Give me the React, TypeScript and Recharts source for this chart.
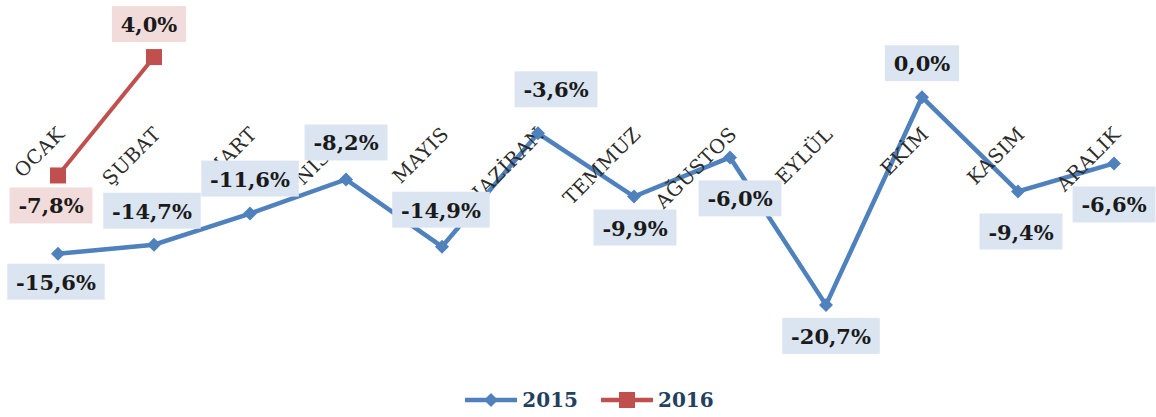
import { LineChart, Line, XAxis, YAxis, Legend, LabelList, ReferenceDot } from "recharts";

const MONTHS = ["OCAK", "ŞUBAT", "MART", "NİSAN", "MAYIS", "HAZİRAN", "TEMMUZ", "AĞUSTOS", "EYLÜL", "EKİM", "KASIM", "ARALIK"];
const Y2015 = [-15.6, -14.7, -11.6, -8.2, -14.9, -3.6, -9.9, -6.0, -20.7, 0.0, -9.4, -6.6];
const Y2016 = [-7.8, 4.0];

// horizontal axis crosses the value axis at 0 (Excel default)
const AXIS_CROSS = 0;
const Y_DOMAIN = [-24, 6];

// where each label box sits, relative to its point (dx, dy of the box center)
const OFFSET_2015 = [[-2, 28], [-2, -34], [0, -35], [0, -37], [-1, -37], [18, -44], [1, 31], [10, 41], [5, 31], [0, -34], [3, 40], [0, 41]];
const OFFSET_2016 = [[-7, 30], [-5, -33]];

const BLUE = "#4f81bd";
const RED = "#c0504d";
const FONT = "'DejaVu Serif', serif";

const data = MONTHS.map((m, i) => ({
  month: m,
  y2015: Y2015[i],
  y2016: i < Y2016.length ? Y2016[i] : null,
}));

const fmt = (v: number) => v.toFixed(1).replace(".", ",") + "%";

// rough glyph widths for DejaVu Serif Bold (em)
const W: Record<string, number> = { "-": 0.411, ",": 0.38, "%": 1.002 };
const textWidth = (s: string, size: number) =>
  s.split("").reduce((acc, c) => acc + (W[c] ?? 0.696), 0) * size;

function makeBox(offsets: number[][], fill: string) {
  return (p: any) => {
    const { x, y, value, index } = p;
    if (value == null) return null;
    const [dx, dy] = offsets[index] || [0, -34];
    const label = fmt(Number(value));
    const w = textWidth(label, 21) + 16;
    const cx = x + dx;
    const cy = y + dy;
    return (
      <g>
        <rect x={cx - w / 2} y={cy - 18} width={w} height={36} fill={fill} />
        <text x={cx} y={cy + 8} textAnchor="middle" fontFamily={FONT} fontWeight="bold" fontSize={21} fill="#1a1a1a">
          {label}
        </text>
      </g>
    );
  };
}

const Diamond = (p: any) => {
  const { cx, cy, index } = p;
  if (cx == null || cy == null) return <g key={index} />;
  const r = 7;
  return <polygon key={index} points={`${cx},${cy - r} ${cx + r},${cy} ${cx},${cy + r} ${cx - r},${cy}`} fill={BLUE} />;
};

const Square = (p: any) => {
  const { cx, cy, index } = p;
  if (cx == null || cy == null) return <g key={index} />;
  return <rect key={index} x={cx - 8} y={cy - 8} width={16} height={16} fill={RED} />;
};

function LegendBox() {
  const item = (color: string, name: string, marker: "d" | "s") => (
    <div style={{ display: "flex", alignItems: "center", marginRight: 22 }}>
      <svg width={54} height={20}>
        <line x1={1} y1={10} x2={53} y2={10} stroke={color} strokeWidth={4.5} />
        {marker === "d" ? (
          <polygon points="27,3 34,10 27,17 20,10" fill={color} />
        ) : (
          <rect x={19} y={2} width={16} height={16} fill={color} />
        )}
      </svg>
      <span style={{ fontFamily: FONT, fontWeight: "bold", fontSize: 20, color: "#243f60", marginLeft: 4 }}>{name}</span>
    </div>
  );
  return (
    <div style={{ display: "flex", justifyContent: "center", paddingLeft: 44, height: 30, alignItems: "center" }}>
      {item(BLUE, "2015", "d")}
      {item(RED, "2016", "s")}
    </div>
  );
}

export default function App() {
  return (
    <div style={{ position: "absolute", left: 0, top: 0, background: "#fff" }}>
      <LineChart width={1156} height={417} data={data} margin={{ top: 37, right: 42, bottom: 49, left: 58 }}>
        <XAxis dataKey="month" hide />
        <YAxis hide domain={Y_DOMAIN} allowDataOverflow />
        {MONTHS.map((m) => (
          <ReferenceDot
            key={m}
            x={m}
            y={AXIS_CROSS}
            r={0}
            shape={(p: any) => {
              const ax = p.cx + 8;
              const ay = p.cy + 38;
              return (
                <text
                  x={ax}
                  y={ay}
                  transform={`rotate(-45 ${ax} ${ay})`}
                  textAnchor="end"
                  fontFamily={FONT}
                  fontSize={19.5}
                  letterSpacing={0.5}
                  fill="#2b2b2b"
                >
                  {m}
                </text>
              );
            }}
          />
        ))}
        <Line dataKey="y2015" stroke={BLUE} strokeWidth={4.5} dot={Diamond} activeDot={false} isAnimationActive={false}>
          <LabelList dataKey="y2015" content={makeBox(OFFSET_2015, "#dbe5f1")} />
        </Line>
        <Line dataKey="y2016" stroke={RED} strokeWidth={4} dot={Square} activeDot={false} isAnimationActive={false}>
          <LabelList dataKey="y2016" content={makeBox(OFFSET_2016, "#f2dcdb")} />
        </Line>
        <Legend verticalAlign="bottom" height={30} wrapperStyle={{ bottom: 2, left: 0, width: 1156 }} content={() => <LegendBox />} />
      </LineChart>
    </div>
  );
}
